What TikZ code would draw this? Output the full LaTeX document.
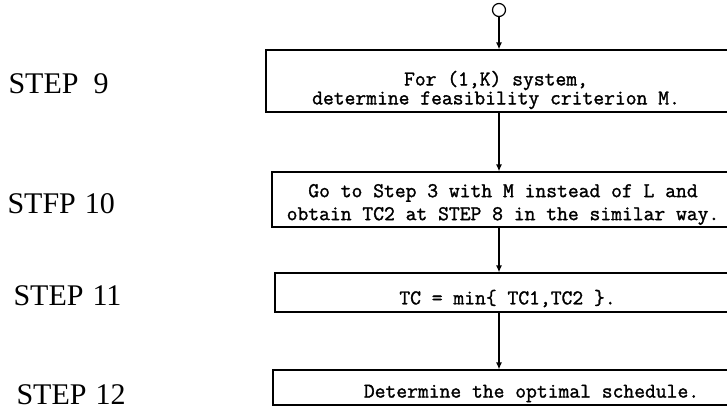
\documentclass[tikz,border=0pt]{standalone}
\usepackage{fontspec}
\setmainfont{Liberation Serif}
\newfontfamily\typefont[FakeBold=1.4]{Latin Modern Mono}
\usetikzlibrary{arrows.meta}

\begin{document}
\begin{tikzpicture}[
    x=1pt, y=-1pt,
    box/.style={draw, line width=1.2pt, inner sep=0pt},
    boxtext/.style={align=center, font=\typefont\fontsize{21}{23}\selectfont},
    steplabel/.style={anchor=west, font=\fontsize{30}{30}\selectfont},
    flow/.style={line width=1.2pt, -{Latex[length=7pt, width=6pt]}}
  ]
  \useasboundingbox (0,0) rectangle (727,410);
  % start connector
  \node[circle, draw, line width=1.2pt, minimum size=13pt, inner sep=0pt] (start) at (499,10) {};
  % step boxes (right edges run off the page)
  \node[box, minimum width=464pt, minimum height=62pt,
        label={[boxtext, xshift=-2pt, yshift=-9pt]center:{For (1,K) system,\\[-4pt]determine feasibility criterion M.}}] (s9) at (498,81) {};
  \node[box, minimum width=458pt, minimum height=55pt,
        label={[boxtext, xshift=2pt, yshift=-5pt]center:{Go to Step 3 with M instead of L and\\obtain TC2 at STEP 8 in the similar way.}}] (s10) at (501,199.5) {};
  \node[box, minimum width=455pt, minimum height=39pt,
        label={[boxtext, xshift=5pt, yshift=-6pt]center:{TC = min\{ TC1,TC2 \}.}}] (s11) at (502.5,292.5) {};
  \node[box, minimum width=457pt, minimum height=35pt,
        label={[boxtext, xshift=30pt, yshift=-6pt]center:{Determine the optimal schedule.}}] (s12) at (501.5,387.5) {};
  % step labels
  \node[steplabel] (l9) at (5,84) {STEP\hspace{0.5em}9};
  \node[steplabel] (l10) at (4,204) {STFP\hspace{0.3em}10};
  \node[steplabel] (l11) at (10,296) {STEP\hspace{0.3em}11};
  \node[steplabel] (l12) at (13,395) {STEP\hspace{0.3em}12};
  % flow
  \draw[flow] (start.south) -- (start.south |- s9.north);
  \draw[flow] (s9.south -| start) -- (s10.north -| start);
  \draw[flow] (s10.south -| start) -- (s11.north -| start);
  \draw[flow] (s11.south -| start) -- (s12.north -| start);
\end{tikzpicture}
\end{document}
